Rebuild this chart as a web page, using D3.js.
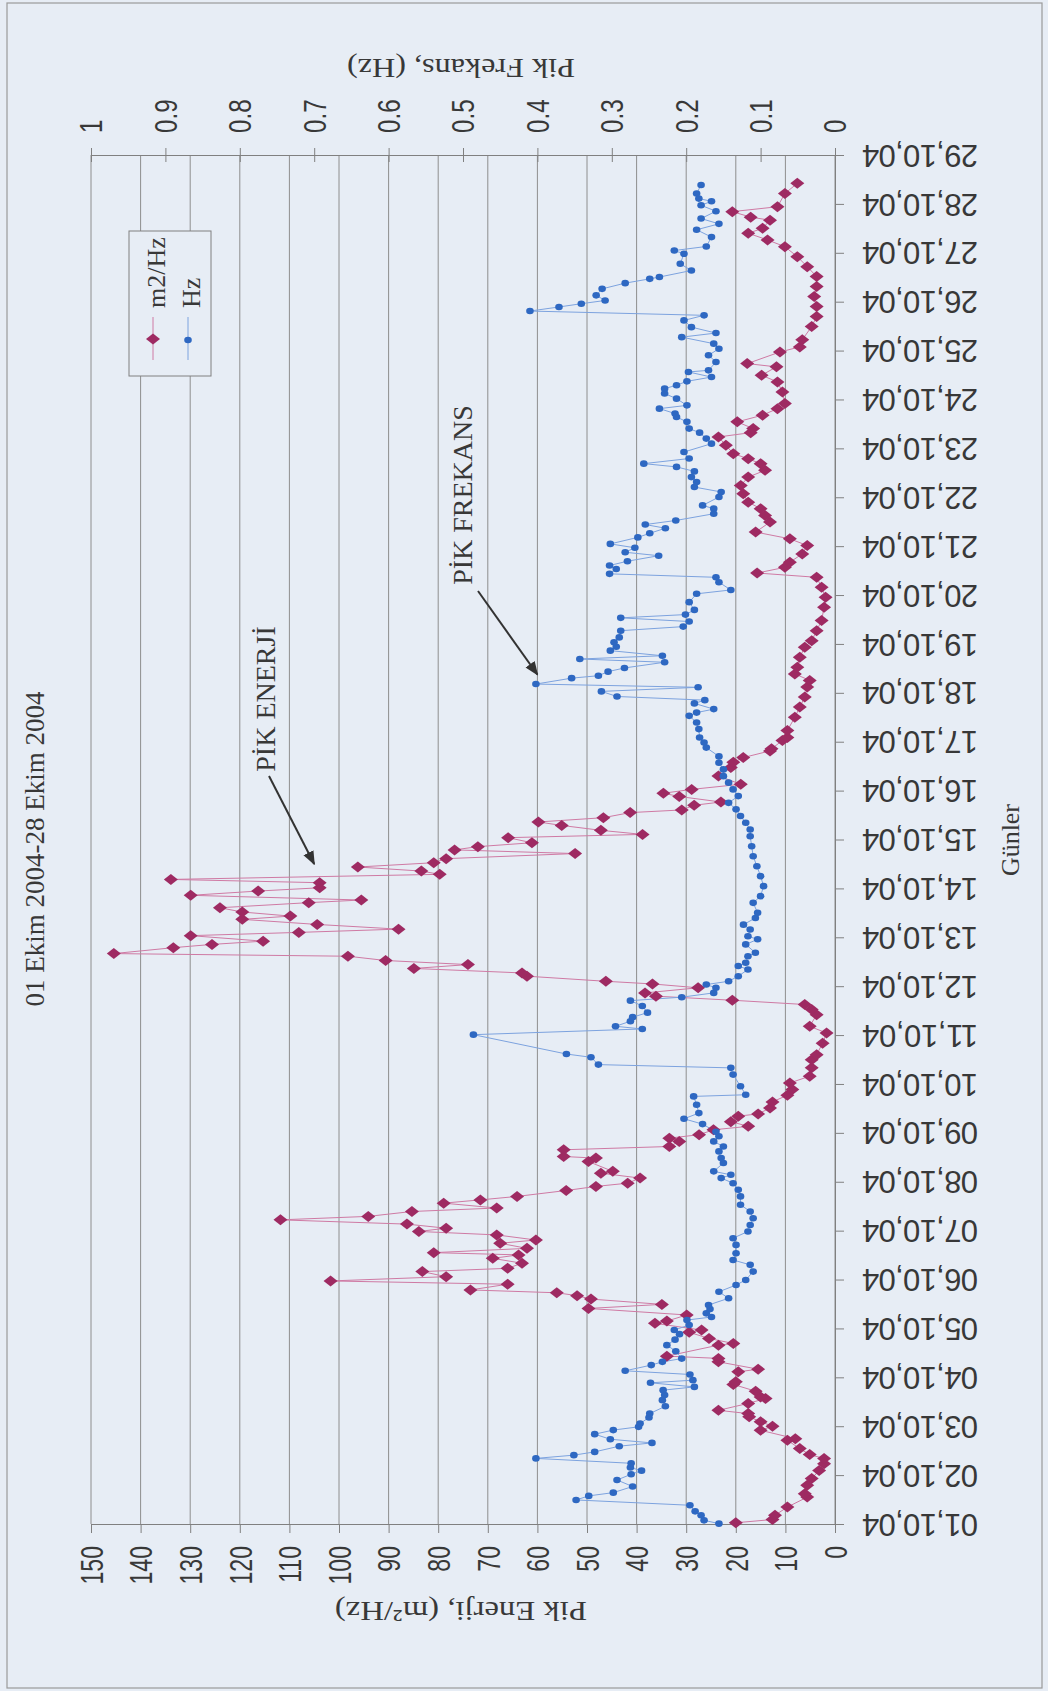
<!DOCTYPE html>
<html><head><meta charset="utf-8">
<script src="https://cdn.jsdelivr.net/npm/d3@7"></script>
<style>
html,body{margin:0;padding:0;background:#e7edf5;}
svg{display:block;font-family:"Liberation Serif","Times New Roman",serif;}
</style></head>
<body><svg id="chart" width="1048" height="1691"></svg>
<script>
// ---- data (hours since 01.10.2004 00:00, value) ----
const energy = [[0.6,20],[2.2,12.6],[4.3,12.1],[8.3,9.6],[13.2,5.6],[14.8,6.1],[19.0,5.6],[22.3,4.7],[26.3,3.2],[29.6,2.2],[32.1,2.2],[34.1,5.1],[37.0,7.1],[41.1,9.6],[41.9,8.0],[46.0,15],[48.0,12.6],[50.2,15],[52.6,17.3],[54.2,17.5],[55.8,23.5],[59.2,17.5],[61.6,14],[62.4,15],[65.2,16],[68.5,20.5],[69.8,20],[74.7,19.5],[76.0,15.5],[79.6,23.5],[81.3,23.5],[82.4,33.9],[87.8,23.5],[88.6,20.5],[91.1,25.4],[94.1,29.4],[95.2,26.9],[98.5,36.3],[99.6,33.9],[102.6,29.9],[105.8,49.7],[107.8,34.9],[110.4,49.2],[112.1,52],[113.5,56.1],[114.9,73.5],[117.7,66],[119.3,101.7],[121.4,78.4],[123.9,83.2],[125.5,66],[128.0,63.1],[130.4,69],[132.1,63.8],[133.2,80.9],[135.3,62.1],[137.8,67.5],[139.4,60.3],[141.9,68.2],[143.6,83.9],[145.2,78.4],[147.2,86.3],[149.3,111.8],[151.0,94.1],[153.4,85.3],[155.1,68.2],[157.5,78.9],[159.1,71.5],[160.8,64.1],[163.7,54.2],[165.7,48.2],[167.3,41.8],[169.8,39.3],[172.2,47.2],[173.1,44.8],[177.9,49.7],[179.6,48.2],[180.4,54.7],[183.7,54.7],[185.3,33.4],[187.8,31.4],[189.4,33.4],[191.1,27.4],[193.5,24.5],[195.2,17.5],[197.5,21],[200.2,19.5],[201.3,15.5],[204.2,13.1],[207.2,12.6],[210.5,9.6],[213.3,8.6],[216.5,9.1],[219.8,5.1],[223.9,4.7],[227.9,4.7],[230.4,3.7],[236,2.5],[241.0,1.7],[244.3,5.1],[250.0,3.7],[252.5,4.7],[255.0,6.1],[257.1,20.7],[259.1,36.1],[260.7,38.3],[263.2,27.6],[265.1,36.8],[266.4,46.2],[268.9,62.1],[270.5,63.1],[272.7,84.9],[274.6,74],[276.6,90.6],[278.7,98.2],[280.0,145.4],[282.9,133.4],[284.5,125.6],[286.1,115.3],[288.8,129.9],[290.4,108.1],[292.0,88],[294.3,104.4],[296.8,119.5],[298.4,109.8],[300.4,119.5],[302.5,124],[305.0,106.1],[306.3,95.5],[308.6,129.9],[310.7,116.3],[312.3,103.9],[314.8,103.9],[316.4,133.9],[318.9,79.7],[320.5,83.4],[322.5,96.2],[324.6,80.9],[326.6,78.4],[329.1,52.4],[330.9,76.7],[332.5,72],[334.4,61.1],[336.9,65.9],[338.5,38.8],[340.5,47.2],[342.9,55.1],[344.6,59.8],[346.7,46.7],[349.2,41.3],[350.5,30.9],[352.8,28.4],[354.4,23],[357.1,31.4],[358.7,34.6],[360.6,28.9],[363.1,19],[367.2,23.5],[371.3,21],[373.9,20.5],[376.2,18.5],[379.5,13.1],[380.5,12.8],[384.6,10.6],[386.1,9.6],[389.5,9.6],[396.0,8.1],[401.0,7.1],[405.9,6.1],[410.8,5.6],[414.1,5.1],[417.3,8.1],[420.6,7.6],[425.5,7.1],[430.4,6.1],[433.6,4.7],[438.5,3.7],[443.5,2.7],[450,2.2],[454.9,1.9],[459.8,2.7],[464.7,3.7],[466.8,15.7],[469.6,10.1],[472.1,9.1],[476.2,6.6],[480.3,5.6],[483.6,9.1],[486.9,16],[491.8,13.1],[495.1,14.1],[498.4,15],[501.6,17.5],[505.7,18.5],[509.8,19],[513.9,17.5],[517.2,14.1],[520.5,15],[522.9,17.5],[525.4,20.5],[529.5,22],[533.6,23.5],[535.7,17],[537.7,16.5],[541.0,19.7],[544.3,14.6],[547.5,11.6],[550.0,10.1],[555.7,10.6],[560.6,11.6],[563.9,14.8],[568.0,11.8],[569.6,17.7],[575.3,11.1],[577.8,7.1],[581.3,6.6],[587.8,4.7],[592.7,3.7],[597.6,3.7],[602.5,4.2],[607.4,3.7],[612.3,3.7],[617.2,5.6],[622.1,7.6],[627.0,10.1],[630.3,13.6],[633.6,17.5],[636,14.6],[640,13.1],[641.5,17],[644.2,20.7],[646.6,11.6],[653.1,10.1],[658.1,7.6]];

const freq = [[0.2,0.156],[1.8,0.176],[4.3,0.18],[6.2,0.188],[9.2,0.195],[11.8,0.348],[13.8,0.331],[15.4,0.298],[18.4,0.272],[21.6,0.293],[24.4,0.274],[26.2,0.26],[27.7,0.275],[29.8,0.274],[32.2,0.402],[33.8,0.351],[35.4,0.323],[38.2,0.29],[39.8,0.246],[41.6,0.302],[44.1,0.323],[46.1,0.298],[47.7,0.264],[49.3,0.262],[52.3,0.25],[54.2,0.249],[57.8,0.228],[60.8,0.232],[63.3,0.229],[65.7,0.231],[67.3,0.189],[69.3,0.248],[70.6,0.191],[73.4,0.195],[75.2,0.282],[78.0,0.247],[79.6,0.232],[81.2,0.206],[84.8,0.214],[87.8,0.226],[90.5,0.215],[93.2,0.209],[95.2,0.216],[97.7,0.196],[100.1,0.199],[101.6,0.166],[103.4,0.173],[105.5,0.168],[107.5,0.17],[110.8,0.143],[114.0,0.156],[117.3,0.133],[119.8,0.12],[123.9,0.11],[127.2,0.114],[129.6,0.137],[132.9,0.133],[137.0,0.133],[140.3,0.137],[143.6,0.117],[146.8,0.114],[150.1,0.11],[153.4,0.114],[156.7,0.127],[160.8,0.127],[164.1,0.13],[167.3,0.137],[169.8,0.153],[171.4,0.14],[173.1,0.163],[177.2,0.15],[179.6,0.153],[182.9,0.156],[185.3,0.15],[187.8,0.163],[190.3,0.156],[192.5,0.16],[196.3,0.178],[198.9,0.203],[201.7,0.183],[205.8,0.186],[209.9,0.19],[210.7,0.12],[214.9,0.127],[220.6,0.137],[223.9,0.14],[225.5,0.318],[229.1,0.328],[230.7,0.361],[240.2,0.486],[243.0,0.259],[244.3,0.295],[246.8,0.275],[248.8,0.272],[251.0,0.252],[254.3,0.259],[256.9,0.275],[258.6,0.206],[260.7,0.163],[263.2,0.16],[264.8,0.173],[266.4,0.143],[268.9,0.13],[272.2,0.117],[273.9,0.13],[275.5,0.12],[278.7,0.117],[280.4,0.107],[284.5,0.12],[287,0.104],[288.5,0.117],[291.8,0.114],[294.2,0.123],[297.5,0.107],[300,0.104],[304.9,0.11],[308.2,0.1],[313.1,0.096],[318.0,0.1],[322.9,0.105],[327.8,0.11],[332.7,0.112],[337.6,0.114],[340.9,0.114],[344.2,0.12],[347.5,0.127],[350.8,0.133],[354,0.143],[357.3,0.13],[360.6,0.137],[363.9,0.143],[367.1,0.15],[370.4,0.15],[373.7,0.156],[376.8,0.156],[381.1,0.173],[383.6,0.176],[386.1,0.182],[390.2,0.183],[393.4,0.186],[396.7,0.196],[398.3,0.186],[400.0,0.163],[402.8,0.189],[404.4,0.175],[406.2,0.293],[408.7,0.314],[410.7,0.184],[412.3,0.402],[415.2,0.354],[416.4,0.318],[418.4,0.305],[420.2,0.283],[423.0,0.229],[424.6,0.343],[426.2,0.232],[428.7,0.302],[430.6,0.294],[432.8,0.297],[435.2,0.29],[438.5,0.288],[440.5,0.204],[443.0,0.196],[444.8,0.288],[446.4,0.201],[448.7,0.189],[452.5,0.196],[456.6,0.186],[458.5,0.14],[462.3,0.156],[464.7,0.16],[466.4,0.303],[468.8,0.294],[470.5,0.303],[472.6,0.279],[475.3,0.237],[477,0.282],[479.2,0.269],[481.1,0.302],[484.3,0.265],[486.3,0.249],[488.8,0.228],[490.6,0.255],[492.6,0.214],[495.9,0.163],[498.4,0.163],[500.0,0.178],[504.1,0.156],[506.6,0.153],[509.0,0.189],[511.5,0.186],[513.9,0.193],[516.7,0.189],[518.9,0.213],[520.5,0.257],[523.0,0.196],[526.2,0.203],[530.3,0.166],[532.8,0.173],[535.7,0.182],[537.7,0.196],[541.0,0.199],[543.4,0.213],[545.1,0.215],[547.5,0.236],[549.1,0.199],[552.4,0.213],[554.9,0.229],[557.3,0.229],[559.0,0.213],[560.9,0.199],[563.0,0.166],[565.5,0.197],[566.3,0.17],[570.4,0.16],[573.7,0.17],[576.9,0.156],[579.4,0.163],[582.6,0.206],[584.6,0.16],[587.5,0.193],[590.8,0.203],[593.3,0.176],[595.4,0.41],[597.4,0.371],[599.0,0.341],[600.6,0.309],[603.1,0.321],[606.3,0.313],[609.1,0.282],[611.2,0.249],[612.1,0.236],[615.3,0.193],[618.6,0.208],[623.5,0.203],[625.1,0.216],[627.1,0.173],[631.7,0.166],[635.3,0.186],[638.2,0.156],[640.8,0.18],[644.4,0.16],[647.3,0.18],[649.3,0.166],[650.6,0.183],[653.1,0.186],[657.3,0.18]];

const dayLabels = ["01,10,04","02,10,04","03,10,04","04,10,04","05,10,04","06,10,04","07,10,04","08,10,04","09,10,04","10,10,04","11,10,04","12,10,04","13,10,04","14,10,04","15,10,04","16,10,04","17,10,04","18,10,04","19,10,04","20,10,04","21,10,04","22,10,04","23,10,04","24,10,04","25,10,04","26,10,04","27,10,04","28,10,04","29,10,04"];
const energyTicks = [0,10,20,30,40,50,60,70,80,90,100,110,120,130,140,150];
const freqTicks = [0,0.1,0.2,0.3,0.4,0.5,0.6,0.7,0.8,0.9,1];
const freqTickLabels = ["0","0.1","0.2","0.3","0.4","0.5","0.6","0.7","0.8","0.9","1"];
const titleText = "01 Ekim 2004-28 Ekim 2004";
const seriesNames = ["m2/Hz","Hz"];

// ---- layout (chart is shown rotated: time runs bottom -> top) ----
const svg = d3.select("#chart");
const txt = "#383838", axisCol = "#808080", gridCol = "#8e8e8e";
const magenta = "#9e2a62", magLine = "#cf7aa4", blue = "#2e68c2", blueLine = "#7da3df";

const yT = d3.scaleLinear().domain([0, 672]).range([1524, 155]);
const xE = d3.scaleLinear().domain([0, 150]).range([835, 91]);
const xF = d3.scaleLinear().domain([0, 1]).range([835, 91]);

// frame
svg.append("rect").attr("x",7).attr("y",3).attr("width",1035).attr("height",1685)
  .attr("fill","#e7edf5").attr("stroke","#9a9a9a").attr("stroke-width",1.2);

// gridlines
svg.append("g").selectAll("line").data(energyTicks).join("line")
  .attr("x1",d=>xE(d)).attr("x2",d=>xE(d)).attr("y1",yT(672)).attr("y2",yT(0))
  .attr("stroke",gridCol).attr("stroke-width",1);

// energy axis (bottom)
const gE = svg.append("g").attr("transform",`translate(0,${yT(0)})`)
  .call(d3.axisBottom(xE).tickValues(energyTicks).tickSize(9).tickFormat(d3.format("d")));
gE.select(".domain").attr("stroke",axisCol);
gE.selectAll(".tick line").attr("stroke",axisCol);
gE.selectAll(".tick text").attr("fill",txt).attr("font-size",32)
  .attr("text-anchor","end").attr("x",0).attr("y",0).attr("dy","0.35em")
  .attr("transform","translate(0,22) rotate(-90) scale(0.72,1)");

// frequency axis (top)
const gF = svg.append("g").attr("transform",`translate(0,${yT(672)})`)
  .call(d3.axisTop(xF).tickValues(freqTicks).tickSize(7).tickFormat((d,i)=>freqTickLabels[i]));
gF.select(".domain").attr("stroke",axisCol);
gF.selectAll(".tick line").attr("stroke",axisCol).attr("y1",7).attr("y2",-7);
gF.selectAll(".tick text").attr("fill",txt).attr("font-size",31)
  .attr("text-anchor","start").attr("x",0).attr("y",0).attr("dy","0.35em")
  .attr("transform","translate(0,-22) rotate(-90) scale(0.78,1)");

// date axis (right)
const gD = svg.append("g").attr("transform",`translate(${xE(0)},0)`)
  .call(d3.axisRight(yT).tickValues(d3.range(0,673,24)).tickSize(9).tickFormat((d)=>dayLabels[Math.round(d/24)]));
gD.select(".domain").attr("stroke",axisCol);
gD.selectAll(".tick line").attr("stroke",axisCol);
gD.selectAll(".tick text").attr("fill",txt).attr("font-size",31)
  .attr("text-anchor","end").attr("x",0).attr("y",0).attr("dy","0.35em")
  .attr("transform","translate(27,0) rotate(180)")
  .attr("textLength",116).attr("lengthAdjust","spacing");

// series lines
const lineE = d3.line().x(d=>xE(d[1])).y(d=>yT(d[0]));
const lineF = d3.line().x(d=>xF(d[1])).y(d=>yT(d[0]));
svg.append("path").attr("d",lineE(energy)).attr("fill","none").attr("stroke",magLine).attr("stroke-width",1);
svg.append("path").attr("d",lineF(freq)).attr("fill","none").attr("stroke",blueLine).attr("stroke-width",1);

// markers
const diamond = "M0,-5.5L7,0L0,5.5L-7,0Z";
svg.append("g").selectAll("path").data(energy).join("path")
  .attr("d",diamond).attr("transform",d=>`translate(${xE(d[1])},${yT(d[0])})`)
  .attr("fill",magenta);
svg.append("g").selectAll("ellipse").data(freq).join("ellipse")
  .attr("cx",d=>xF(d[1])).attr("cy",d=>yT(d[0])).attr("rx",3.8).attr("ry",3.3)
  .attr("fill",blue);

// axis titles
svg.append("text").text(titleText).attr("transform","translate(35,849) rotate(-90)")
  .attr("text-anchor","middle").attr("dy","0.35em").attr("font-size",27).attr("fill",txt);
svg.append("text").text("Günler").attr("transform","translate(1010,840) rotate(-90)")
  .attr("text-anchor","middle").attr("dy","0.35em").attr("font-size",25).attr("fill",txt)
  .attr("textLength",72).attr("lengthAdjust","spacingAndGlyphs");
const tE = svg.append("text").attr("transform","translate(461,1612) rotate(180)")
  .attr("text-anchor","middle").attr("dy","0.35em").attr("font-size",28).attr("fill",txt)
  .attr("textLength",252).attr("lengthAdjust","spacingAndGlyphs");
tE.text("Pik Enerji,  (m²/Hz)");
svg.append("text").text("Pik Frekans, (Hz)").attr("transform","translate(461,69) rotate(180)")
  .attr("text-anchor","middle").attr("dy","0.35em").attr("font-size",28).attr("fill",txt)
  .attr("textLength",228).attr("lengthAdjust","spacingAndGlyphs");

// annotations
const defs = svg.append("defs");
defs.append("marker").attr("id","arr").attr("viewBox","0 0 10 10").attr("refX",9).attr("refY",5)
  .attr("markerWidth",7).attr("markerHeight",7).attr("orient","auto-start-reverse")
  .append("path").attr("d","M0,1L10,5L0,9Z").attr("fill","#333");
svg.append("text").text("PİK ENERJİ").attr("transform","translate(265,699) rotate(-90)")
  .attr("text-anchor","middle").attr("dy","0.35em").attr("font-size",28).attr("fill",txt);
svg.append("line").attr("x1",269).attr("y1",776).attr("x2",xE(105)).attr("y2",yT(324))
  .attr("stroke","#333").attr("stroke-width",2).attr("marker-end","url(#arr)");
svg.append("text").text("PİK FREKANS").attr("transform","translate(462,495) rotate(-90)")
  .attr("text-anchor","middle").attr("dy","0.35em").attr("font-size",28).attr("fill",txt);
svg.append("line").attr("x1",478).attr("y1",591).attr("x2",xF(0.40)).attr("y2",yT(417))
  .attr("stroke","#333").attr("stroke-width",2).attr("marker-end","url(#arr)");

// legend
const lg = svg.append("g");
lg.append("rect").attr("x",129).attr("y",231).attr("width",82).attr("height",145)
  .attr("fill","#e7edf5").attr("stroke","#808080").attr("stroke-width",1);
const lgX = [153,188], lgCol = [magLine, blueLine];
lgX.forEach((x,i)=>{
  lg.append("line").attr("x1",x).attr("x2",x).attr("y1",317).attr("y2",360).attr("stroke",lgCol[i]).attr("stroke-width",1);
  if(i===0) lg.append("path").attr("d",diamond).attr("transform",`translate(${x},339)`).attr("fill",magenta);
  else lg.append("ellipse").attr("cx",x).attr("cy",340).attr("rx",3.8).attr("ry",3.3).attr("fill",blue);
  lg.append("text").text(seriesNames[i]).attr("transform",`translate(${x+3},308) rotate(-90)`)
    .attr("text-anchor","start").attr("dy","0.35em").attr("font-size",26).attr("fill",txt);
});
</script></body></html>
